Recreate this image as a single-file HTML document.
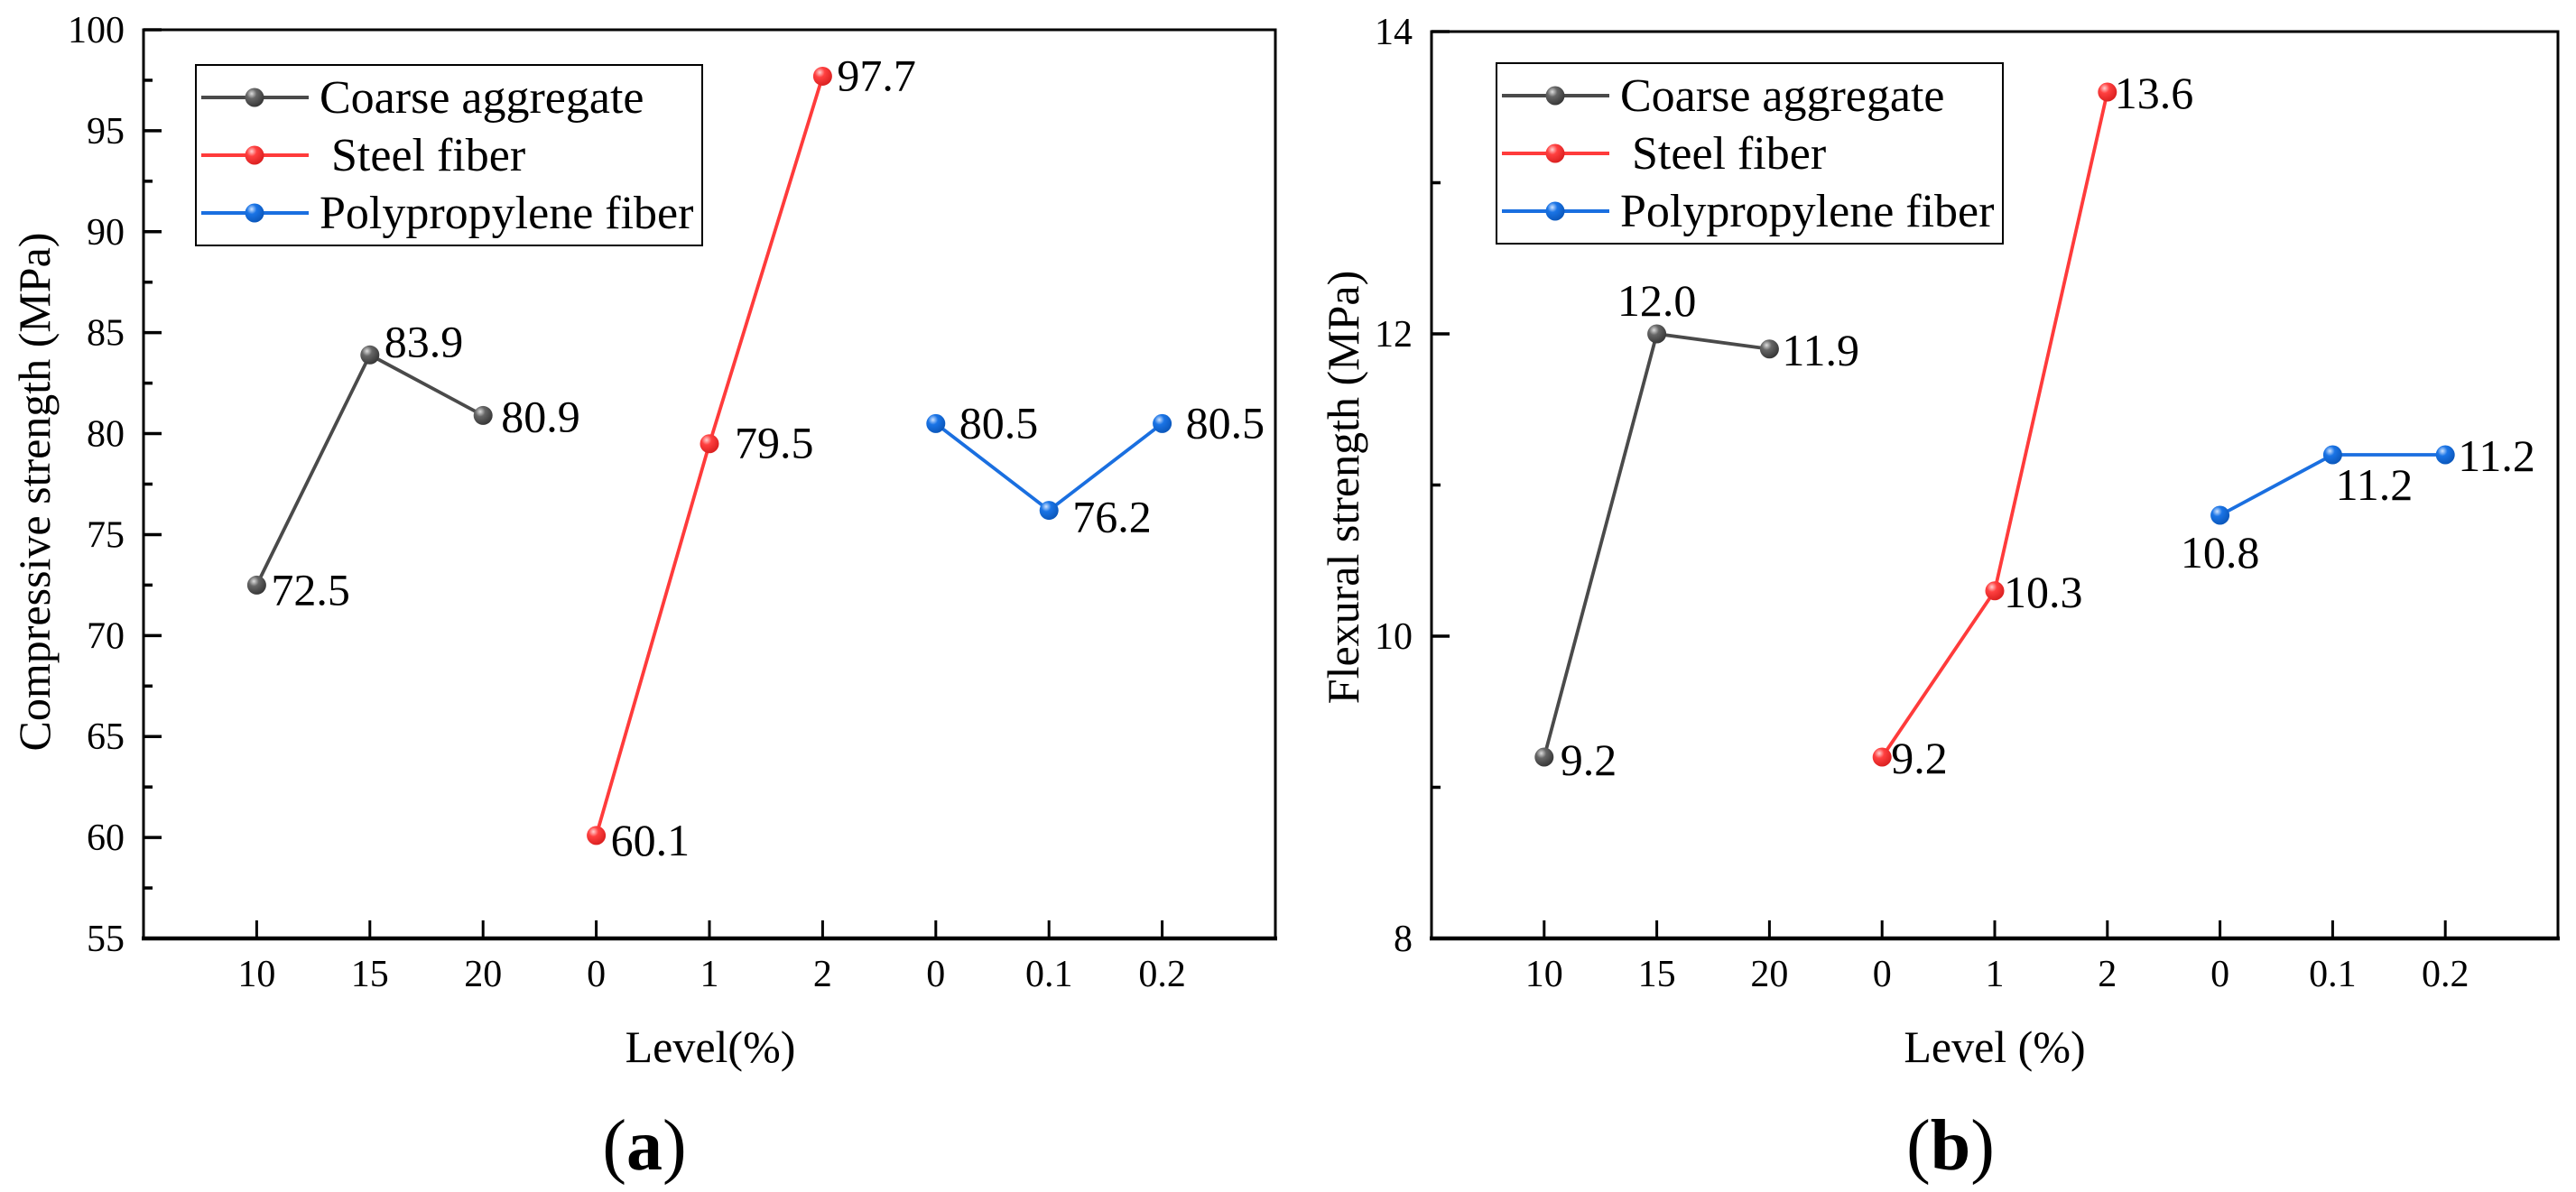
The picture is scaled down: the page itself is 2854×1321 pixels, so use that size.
<!DOCTYPE html>
<html><head><meta charset="utf-8"><style>
html,body{margin:0;padding:0;background:#fff;}
svg{display:block;}
text{font-family:"Liberation Serif","Times New Roman","DejaVu Serif",serif;}
</style></head><body>
<svg id="fig" width="2854" height="1321" viewBox="0 0 2854 1321" xmlns="http://www.w3.org/2000/svg" font-family="'Liberation Serif', 'DejaVu Serif', serif">
<defs>
<radialGradient id="gk" cx="0.35" cy="0.3" r="0.75"><stop offset="0" stop-color="#ddd"/><stop offset="0.35" stop-color="#666"/><stop offset="1" stop-color="#333"/></radialGradient>
<radialGradient id="gr" cx="0.35" cy="0.3" r="0.75"><stop offset="0" stop-color="#ffd0d0"/><stop offset="0.35" stop-color="#ff4040"/><stop offset="1" stop-color="#d81e1e"/></radialGradient>
<radialGradient id="gb" cx="0.35" cy="0.3" r="0.75"><stop offset="0" stop-color="#cfe3ff"/><stop offset="0.35" stop-color="#1a74e6"/><stop offset="1" stop-color="#0a55b8"/></radialGradient>
</defs>
</svg>
<script>
// ---- data ----
const categories = ["10","15","20","0","1","2","0","0.1","0.2"];
const seriesNames = ["Coarse aggregate"," Steel fiber","Polypropylene fiber"];
const compCoarse = [72.5, 83.9, 80.9];
const compSteel = [60.1, 79.5, 97.7];
const compPP = [80.5, 76.2, 80.5];
const flexCoarse = [9.2, 12.0, 11.9];
const flexSteel = [9.2, 10.3, 13.6];
const flexPP = [10.8, 11.2, 11.2];
const compTicks = [55,60,65,70,75,80,85,90,95,100];
const flexTicks = [8,10,12,14];

const NS = "http://www.w3.org/2000/svg";
const svg = document.getElementById('fig');
const FF = "'Liberation Serif', 'Times New Roman', 'DejaVu Serif', serif";
function mk(tag, attrs, parent){
  const e = document.createElementNS(NS, tag);
  for (const k in attrs) e.setAttribute(k, attrs[k]);
  if (tag === 'text') e.setAttribute('font-family', FF);
  (parent||svg).appendChild(e);
  return e;
}
const colors = ["#4a4a4a","#ff3b3b","#1a6fe0"];
const grads = ["url(#gk)","url(#gr)","url(#gb)"];

function chart(cfg){
  const g = mk('g', {});
  
  
  const L=cfg.left, R=cfg.right, T=cfg.top, B=cfg.bottom;
  const step=(R-L)/10;
  const xS = i => L + (i+1)*step;
  const yS = v => B - (v-cfg.min)/(cfg.max-cfg.min)*(B-T);
  const fr = mk('rect',{x:L,y:T,width:R-L,height:B-T,fill:'none',stroke:'#000','stroke-width':3},g);
  
  
  mk('line',{x1:L-2,y1:B,x2:R+2,y2:B,stroke:'#000','stroke-width':4.5},g);
  const ya = mk('g',{},g);
  
  
  cfg.ticks.forEach((t,i)=>{
    const y=yS(t);
    mk('line',{x1:L,y1:y,x2:L+20,y2:y,stroke:'#000','stroke-width':3.5},ya);
    if(i<cfg.ticks.length-1){
      const ym=yS(t+(cfg.ticks[1]-cfg.ticks[0])/2);
      mk('line',{x1:L,y1:ym,x2:L+10,y2:ym,stroke:'#000','stroke-width':3.5},ya);
    }
    const tx=mk('text',{x:L-21,y:y+14,'text-anchor':'end','font-size':42},ya);
    tx.textContent=String(t);
    
    
  });
  const xa = mk('g',{},g);
  
  
  categories.forEach((c,i)=>{
    const x=xS(i);
    mk('line',{x1:x,y1:B,x2:x,y2:B-20,stroke:'#000','stroke-width':3},xa);
    const tx=mk('text',{x:x,y:1093,'text-anchor':'middle','font-size':42},xa);
    tx.textContent=c;
    
    
  });
  const xt=mk('text',{x:cfg.xtX,y:1177,'text-anchor':'middle','font-size':50},g);
  xt.textContent=cfg.xTitle;
  
  
  const yt=mk('text',{x:0,y:0,'text-anchor':'middle','font-size':50,transform:`translate(${cfg.ytX},${cfg.ytY}) rotate(-90)`},g);
  yt.textContent=cfg.yTitle;
  
  
  const pl=mk('text',{x:cfg.panelX,y:1296,'text-anchor':'middle','font-size':80},g);
  pl.innerHTML='(<tspan font-weight="bold">'+cfg.panel+'</tspan>)';
  
  
  cfg.series.forEach((vals,s)=>{
    const sg=mk('g',{},g);
    
    
    const pts=vals.map((v,j)=>[xS(s*3+j),yS(v)]);
    mk('polyline',{points:pts.map(p=>p.join(',')).join(' '),fill:'none',stroke:colors[s],'stroke-width':3.8},sg);
    pts.forEach((p,j)=>{
      const c=mk('circle',{cx:p[0],cy:p[1],r:10.5,fill:grads[s]},sg);
      
      
      const off=cfg.labelPos[s][j];
      const tx=mk('text',{x:p[0]+off[0],y:p[1]+off[1],'text-anchor':off[2]||'start','font-size':50},sg);
      tx.textContent=vals[j].toFixed(1);
      
      
    });
  });
  const lg=mk('g',{},g);
  
  
  const lgx=cfg.legend[0], lgy=cfg.legend[1];
  mk('rect',{x:lgx,y:lgy,width:cfg.legend[2],height:cfg.legend[3],fill:'#fff',stroke:'#000','stroke-width':2},lg);
  seriesNames.forEach((n,s)=>{
    const e=mk('g',{},lg);
    
    
    const y=lgy+36+s*64;
    mk('line',{x1:lgx+6,y1:y,x2:lgx+125,y2:y,stroke:colors[s],'stroke-width':4},e);
    mk('circle',{cx:lgx+65,cy:y,r:10.5,fill:grads[s]},e);
    const t=mk('text',{x:lgx+137,y:y+17,'font-size':52},e);
    t.setAttribute('style','white-space:pre');
    t.textContent=n;
  });
}

chart({name:'compressive-chart',left:159,right:1413,top:33,bottom:1040,min:55,max:100,ticks:compTicks,
  series:[compCoarse,compSteel,compPP],xTitle:'Level(%)',xtX:787,yTitle:'Compressive strength (MPa)',ytX:55,ytY:545,
  panel:'a',panelX:714,legend:[217,72,561,200],
  labelPos:[[[16,22],[16,2],[20,18]],[[16,22],[28,16],[16,16]],[[26,16],[26,24],[26,16]]]});
chart({name:'flexural-chart',left:1586,right:2834,top:35,bottom:1040,min:8,max:14,ticks:flexTicks,
  series:[flexCoarse,flexSteel,flexPP],xTitle:'Level (%)',xtX:2210,yTitle:'Flexural strength (MPa)',ytX:1505,ytY:540,
  panel:'b',panelX:2161,legend:[1658,70,561,200],
  labelPos:[[[18,20],[0,-20,'middle'],[14,18]],[[10,18],[10,18],[8,18]],[[0,58,'middle'],[46,50,'middle'],[14,18]]]});
</script>
</body></html>
